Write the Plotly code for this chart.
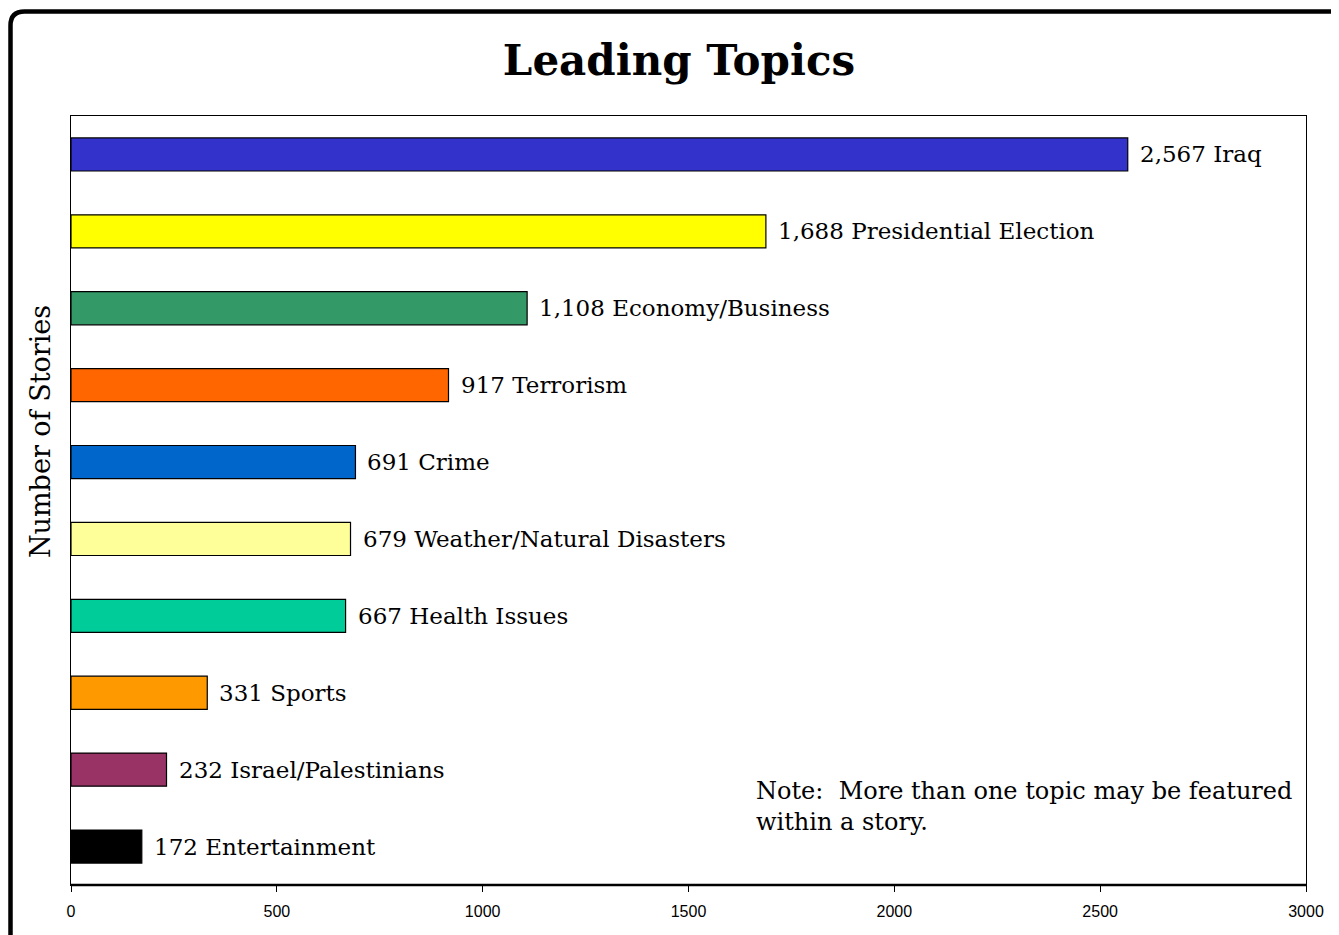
import plotly.graph_objects as go

topics = ["Iraq", "Presidential Election", "Economy/Business", "Terrorism", "Crime",
          "Weather/Natural Disasters", "Health Issues", "Sports", "Israel/Palestinians",
          "Entertainment"]
stories = [2567, 1688, 1108, 917, 691, 679, 667, 331, 232, 172]
colors = ["#3333CC", "#FFFF00", "#339966", "#FF6600", "#0066CC",
          "#FFFF99", "#00CC99", "#FF9900", "#993366", "#000000"]
x_ticks = [0, 500, 1000, 1500, 2000, 2500, 3000]

# page body has an 8px margin; figure coordinates are shifted accordingly
OFF = 8
W, H = 1339 - OFF, 935 - OFF
L, T = 71 - OFF, 116 - OFF
pw, ph = 1235, 769
R, B = W - L - pw, H - T - ph

def px_x(p):
    return (p - OFF - L) / pw

def px_y(p):
    return (T + ph - (p - OFF)) / ph

fig = go.Figure()
fig.add_trace(go.Bar(
    y=topics, x=stories, orientation="h",
    marker=dict(color=colors, line=dict(color="black", width=1.2)),
    width=0.43, hoverinfo="x+y",
))

serif = "DejaVu Serif"
for t, v in zip(topics, stories):
    fig.add_annotation(x=v, y=t, xref="x", yref="y", text=f"{v:,} {t}",
                       showarrow=False, xanchor="left", yanchor="middle",
                       xshift=10, font=dict(family=serif, size=23, color="black"))

fig.add_annotation(xref="paper", yref="paper", x=px_x(754), y=px_y(775),
                   xanchor="left", yanchor="top", align="left", showarrow=False,
                   text="Note:  More than one topic may be featured<br>within a story.",
                   font=dict(family=serif, size=24, color="black"))

fig.add_annotation(xref="paper", yref="paper", x=px_x(40), y=px_y(432),
                   textangle=-90, showarrow=False, xanchor="center", yanchor="middle",
                   text="Number of Stories", font=dict(family=serif, size=27, color="black"))

# rounded outer border
x0, y0 = px_x(10.5), px_y(11.5)
x1, y1 = px_x(1365), px_y(945)
rx, ry = 14 / pw, 14 / ph
path = (f"M {x0},{y1} L {x0},{y0 - ry} Q {x0},{y0} {x0 + rx},{y0} L {x1},{y0}")
fig.add_shape(type="path", path=path, xref="paper", yref="paper",
              line=dict(color="black", width=4.5))

fig.update_layout(
    width=W, height=H,
    margin=dict(l=L, r=R, t=T, b=B),
    paper_bgcolor="white", plot_bgcolor="white",
    showlegend=False,
    title=dict(text="<b>Leading Topics</b>", x=px_x(679), xanchor="center", xref="paper",
               y=1 - (60 - OFF) / H, yanchor="middle",
               font=dict(family=serif, size=42, color="black")),
    xaxis=dict(range=[0, 3000], tickvals=x_ticks, ticktext=[str(v) for v in x_ticks],
               showgrid=False, zeroline=False, showline=True, linecolor="black",
               linewidth=1.2, mirror=True, ticks="outside", ticklen=6, tickcolor="black",
               tickfont=dict(family="Liberation Sans", size=16, color="black"),
               ticklabelstandoff=6, fixedrange=True),
    yaxis=dict(categoryorder="array", categoryarray=topics, autorange="reversed",
               showticklabels=False, showgrid=False, zeroline=False, showline=True,
               linecolor="black", linewidth=1.2, mirror=True, ticks=""),
)
fig.add_shape(type="line", xref="paper", yref="paper", x0=0, x1=1, y0=0, y1=0,
              line=dict(color="black", width=2.5))

fig.write_html("out.html")
